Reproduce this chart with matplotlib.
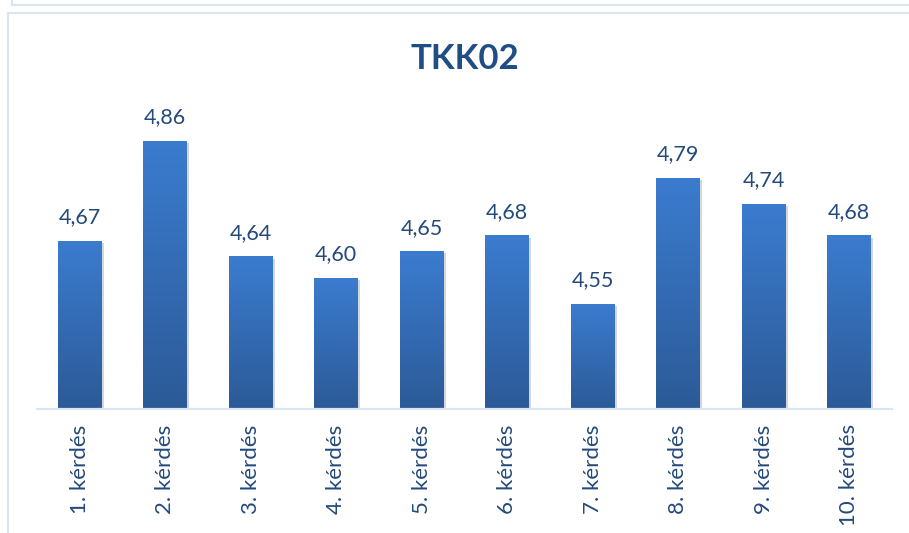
import numpy as np
import matplotlib
matplotlib.use("Agg")
from matplotlib import pyplot as plt
from matplotlib import patheffects as pe
from matplotlib.colors import LinearSegmentedColormap
from matplotlib.lines import Line2D

# =========================
# DANE
# =========================
kategoriak = ["1. kérdés", "2. kérdés", "3. kérdés", "4. kérdés", "5. kérdés",
              "6. kérdés", "7. kérdés", "8. kérdés", "9. kérdés", "10. kérdés"]
ertekek = [4.67, 4.86, 4.64, 4.60, 4.65, 4.68, 4.55, 4.79, 4.74, 4.68]
cim = "TKK02"

szoveg_szin = "#244A7C"
keret_szin = "#DAE5F2"
grad = LinearSegmentedColormap.from_list("kek", ["#2C5A97", "#3B7CCF"])

plt.rcParams["font.family"] = ["Lato", "DejaVu Sans"]

fig = plt.figure(figsize=(9.09, 5.33), dpi=100)
ax = fig.add_axes([37 / 909, 124 / 533, 855 / 909, 315.6 / 533])

x = np.arange(len(kategoriak))
bars = ax.bar(x, ertekek, width=0.51, bottom=0, color="#3470BA", zorder=2,
              path_effects=[pe.SimplePatchShadow(offset=(1.5, -1.5), alpha=0.18),
                            pe.Normal()])

ax.set_ylim(4.35, 4.95)
ax.set_xlim(-0.5, len(kategoriak) - 0.5)

# gradiens az oszlopokon
gradient = np.linspace(0, 1, 256).reshape(-1, 1)
for b in bars:
    x0, w, h = b.get_x(), b.get_width(), b.get_height()
    im = ax.imshow(gradient, cmap=grad, origin="lower", aspect="auto",
                   extent=[x0, x0 + w, 4.35, h], zorder=3)
    im.set_clip_path(b)

for xi, v in zip(x, ertekek):
    ax.annotate(f"{v:.2f}".replace(".", ","), (xi, v), xytext=(0, 12.5),
                textcoords="offset points", ha="center", va="baseline",
                fontsize=15.5, color=szoveg_szin)

for s in ["top", "right", "left"]:
    ax.spines[s].set_visible(False)
ax.spines["bottom"].set_color(keret_szin)
ax.spines["bottom"].set_linewidth(1.6)
ax.spines["bottom"].set_zorder(4)
ax.set_yticks([])
ax.set_xticks(x)
ax.set_xticklabels(kategoriak, rotation=90, fontsize=16, color=szoveg_szin)
ax.tick_params(axis="x", length=0, pad=11)

fig.text(465 / 909, 1 - 59 / 533, cim, ha="center", va="center",
         fontsize=25, fontweight="bold", color="#1F4E85")

# keretek
W, H = 909, 533
fig.add_artist(Line2D([12 / W, 1], [1 - 5 / H, 1 - 5 / H], color=keret_szin, lw=1.5))
fig.add_artist(Line2D([12 / W, 12 / W], [1, 1 - 5 / H], color=keret_szin, lw=1.5))
fig.add_artist(Line2D([8 / W, 1], [1 - 13 / H, 1 - 13 / H], color=keret_szin, lw=1.5))
fig.add_artist(Line2D([8 / W, 8 / W], [1 - 13 / H, 0], color=keret_szin, lw=1.5))

fig.savefig("out.png", dpi=100)
plt.close(fig)
